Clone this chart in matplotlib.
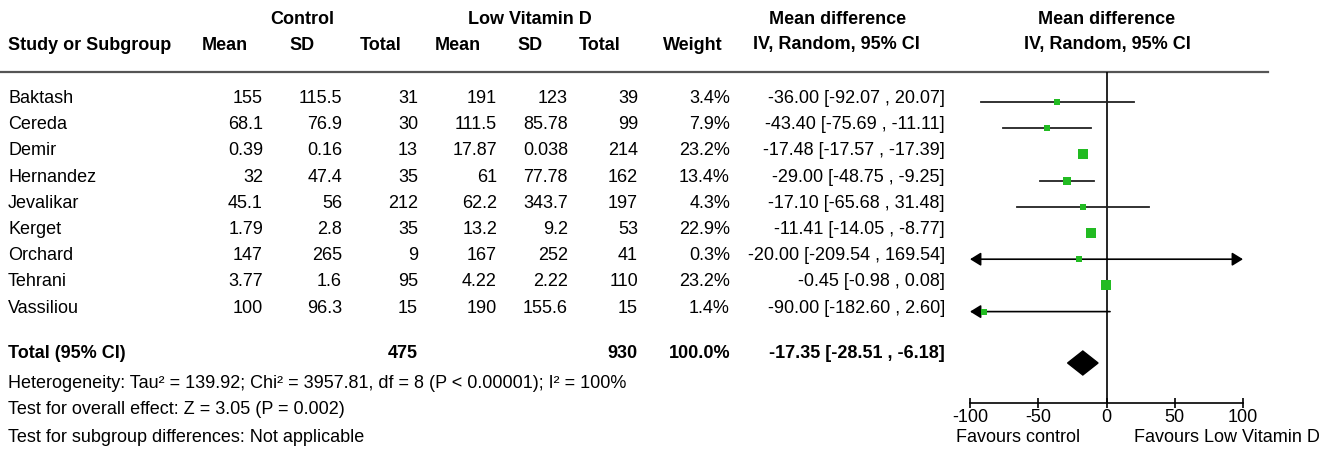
import matplotlib
matplotlib.use("Agg")
import matplotlib.pyplot as plt
from matplotlib.patches import Polygon

plt.rcParams['font.family'] = ['Liberation Sans', 'DejaVu Sans']

# study data
studies = ['Baktash', 'Cereda', 'Demir', 'Hernandez', 'Jevalikar', 'Kerget',
           'Orchard', 'Tehrani', 'Vassiliou']
ctrl_mean = [155, 68.1, 0.39, 32, 45.1, 1.79, 147, 3.77, 100]
ctrl_sd = [115.5, 76.9, 0.16, 47.4, 56, 2.8, 265, 1.6, 96.3]
ctrl_n = [31, 30, 13, 35, 212, 35, 9, 95, 15]
lowd_mean = [191, 111.5, 17.87, 61, 62.2, 13.2, 167, 4.22, 190]
lowd_sd = [123, 85.78, 0.038, 77.78, 343.7, 9.2, 252, 2.22, 155.6]
lowd_n = [39, 99, 214, 162, 197, 53, 41, 110, 15]
weight = [3.4, 7.9, 23.2, 13.4, 4.3, 22.9, 0.3, 23.2, 1.4]
md = [-36.00, -43.40, -17.48, -29.00, -17.10, -11.41, -20.00, -0.45, -90.00]
ci_lo = [-92.07, -75.69, -17.57, -48.75, -65.68, -14.05, -209.54, -0.98, -182.60]
ci_hi = [20.07, -11.11, -17.39, -9.25, 31.48, -8.77, 169.54, 0.08, 2.60]

total_md, total_lo, total_hi = -17.35, -28.51, -6.18
footer = ['Heterogeneity: Tau\u00b2 = 139.92; Chi\u00b2 = 3957.81, df = 8 (P < 0.00001); I\u00b2 = 100%',
          'Test for overall effect: Z = 3.05 (P = 0.002)',
          'Test for subgroup differences: Not applicable']
xticks = [-100, -50, 0, 50, 100]

W, H = 1334, 449
fig = plt.figure(figsize=(W / 100, H / 100), dpi=100)
ax = fig.add_axes([0, 0, 1, 1])
ax.set_xlim(0, W)
ax.set_ylim(H, 0)
ax.axis('off')

FS = 13
row_y = [102 + 26.2 * i for i in range(len(studies))]
txt_dy = -3.5
total_y = 354
diamond_y = 363

# headers
hdr1, hdr2 = 20, 45
bold = dict(fontsize=FS, fontweight='bold', va='center')
ax.text(302, hdr1, 'Control', ha='center', **bold)
ax.text(530, hdr1, 'Low Vitamin D', ha='center', **bold)
ax.text(838, hdr1, 'Mean difference', ha='center', **bold)
ax.text(1107, hdr1, 'Mean difference', ha='center', **bold)
ax.text(8, hdr2, 'Study or Subgroup', ha='left', **bold)
for x, s in [(225, 'Mean'), (302, 'SD'), (381, 'Total'), (458, 'Mean'),
             (530, 'SD'), (600, 'Total'), (693, 'Weight'),
             (836, 'IV, Random, 95% CI'), (1107, 'IV, Random, 95% CI')]:
    ax.text(x, hdr2, s, ha='center', **bold)
ax.plot([0, 1268], [71.5, 71.5], color='#555555', lw=1.6)

# table columns (right edges)
col_x = [263, 342, 418, 497, 568, 638, 730, 945]
norm = dict(fontsize=FS, va='center')
for i, name in enumerate(studies):
    y = row_y[i] + txt_dy
    ax.text(8, y, name, ha='left', **norm)
    vals = ['{:g}'.format(ctrl_mean[i]), '{:g}'.format(ctrl_sd[i]), str(ctrl_n[i]),
            '{:g}'.format(lowd_mean[i]), '{:g}'.format(lowd_sd[i]), str(lowd_n[i]),
            '{:.1f}%'.format(weight[i]),
            '{:.2f} [{:.2f} , {:.2f}]'.format(md[i], ci_lo[i], ci_hi[i])]
    for x, v in zip(col_x, vals):
        ax.text(x, y, v, ha='right', **norm)

# total row
ax.text(8, total_y, 'Total (95% CI)', ha='left', **bold)
ax.text(col_x[2], total_y, str(sum(ctrl_n)), ha='right', **bold)
ax.text(col_x[5], total_y, str(sum(lowd_n)), ha='right', **bold)
ax.text(col_x[6], total_y, '{:.1f}%'.format(sum(weight)), ha='right', **bold)
ax.text(col_x[7], total_y, '{:.2f} [{:.2f} , {:.2f}]'.format(total_md, total_lo, total_hi),
        ha='right', **bold)

for k, line in enumerate(footer):
    ax.text(8, 383 + 27 * k, line, ha='left', **norm)

# forest panel
x0, x1, ytop, ybot = 970, 1243, 71.5, 403
fax = fig.add_axes([x0 / W, (H - ybot) / H, (x1 - x0) / W, (ybot - ytop) / H])
fax.set_xlim(-100, 100)
fax.set_ylim(ybot, ytop)
fax.patch.set_alpha(0)
for s in ['top', 'left', 'right']:
    fax.spines[s].set_visible(False)
fax.spines['bottom'].set_linewidth(1.2)
fax.set_yticks([])
fax.set_xticks(xticks)
fax.set_xticklabels([str(t) for t in xticks], fontsize=FS)
fax.tick_params(axis='x', direction='inout', length=7, width=1.2, pad=1)
fax.axvline(0, color='black', lw=1.2)

green = '#22bb22'
for i in range(len(studies)):
    y = row_y[i]
    lo = max(ci_lo[i], -100)
    hi = min(ci_hi[i], 100)
    if ci_lo[i] < -100 and ci_hi[i] > 100:
        style = '<|-|>'
    elif ci_lo[i] < -100:
        style = '<|-'
    elif ci_hi[i] > 100:
        style = '-|>'
    else:
        style = None
    if style:
        fax.annotate('', xy=(hi, y), xytext=(lo, y),
                     arrowprops=dict(arrowstyle=style + ',head_length=0.65,head_width=0.4',
                                     color='black', lw=1.2, shrinkA=0, shrinkB=0,
                                     mutation_scale=10),
                     annotation_clip=False)
    else:
        fax.plot([lo, hi], [y, y], color='#222222', lw=1.3, clip_on=False)
    side_px = max(5.5, 2.0 * weight[i] ** 0.5)
    fax.plot(md[i], y, marker='s', color=green, markersize=side_px * 0.72,
             markeredgewidth=0, clip_on=False, zorder=5)

fax.add_patch(Polygon([(total_lo, diamond_y), (total_md, diamond_y - 12),
                       (total_hi, diamond_y), (total_md, diamond_y + 12)],
                      closed=True, color='black', clip_on=False))

ax.text(956, 437, 'Favours control', ha='left', **norm)
ax.text(1320, 437, 'Favours Low Vitamin D', ha='right', **norm)

fig.savefig('out.png', dpi=100)
